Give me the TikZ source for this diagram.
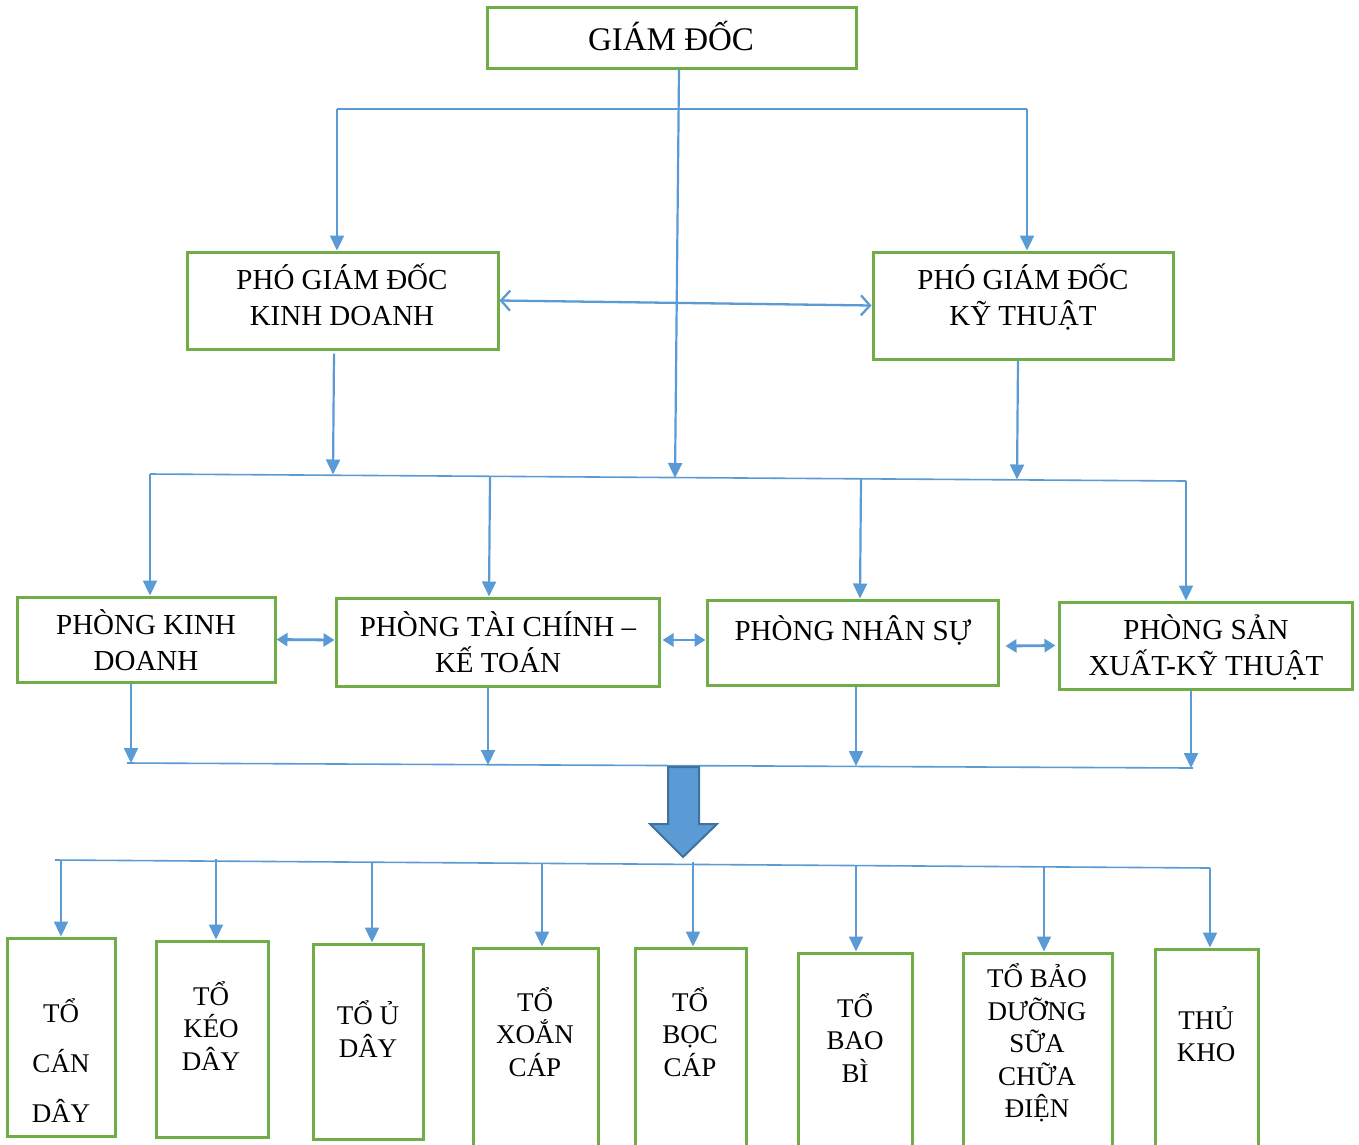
\documentclass[tikz,border=0pt]{standalone}
\usepackage{fontspec}
\setmainfont{Liberation Serif}
\usetikzlibrary{arrows.meta,calc}
\definecolor{gborder}{HTML}{70AD47}
\definecolor{bline}{HTML}{5B9BD5}
\definecolor{bdark}{HTML}{41719C}
\begin{document}
\begin{tikzpicture}[x=1pt,y=-1pt,
  box/.style={draw=gborder,line width=3pt,inner sep=0pt,fill=white},
  gtxt/.style={font=\fontsize{33}{40}\selectfont,align=center,inner sep=0pt},
  mtxt/.style={font=\fontsize{29}{36}\selectfont,align=center,inner sep=0pt},
  stxt/.style={font=\fontsize{27}{32.5}\selectfont,align=center,inner sep=0pt},
  bus/.style={draw=bline,line width=1.6pt},
  arr/.style={draw=bline,line width=2.2pt,-{Triangle[length=15pt,width=14pt]}},
  darr/.style={draw=bline,line width=2.8pt,{Triangle[length=11pt,width=13pt]}-{Triangle[length=11pt,width=13pt]}},
  oarr/.style={draw=bline,line width=2.3pt,{Straight Barb[length=9pt,width=20pt,line width=2.3pt]}-{Straight Barb[length=9pt,width=20pt,line width=2.3pt]}},
  bigarr/.style={fill=bline,draw=bdark,line width=2pt,line join=miter}
]
\clip (0,0) rectangle (1359,1144);
\path[fill=white] (0,0) rectangle (1359,1144);

% boxes
\node[box,minimum width=369pt,minimum height=61pt] (gd) at (671.5,37.5) {};
\node[box,minimum width=311pt,minimum height=97pt] (pkd) at (342.5,300.5) {};
\node[box,minimum width=300pt,minimum height=107pt] (pkt) at (1023,305.5) {};
\node[box,minimum width=258pt,minimum height=85pt] (pkdn) at (146,639.5) {};
\node[box,minimum width=323pt,minimum height=88pt] (ptc) at (497.5,642) {};
\node[box,minimum width=291pt,minimum height=85pt] (pns) at (852.5,642.5) {};
\node[box,minimum width=293pt,minimum height=87pt] (psx) at (1205.5,645.5) {};
\node[box,minimum width=108pt,minimum height=198pt] (b1) at (61,1037) {};
\node[box,minimum width=112pt,minimum height=196pt] (b2) at (212,1039) {};
\node[box,minimum width=110pt,minimum height=195pt] (b3) at (368,1041.5) {};
\node[box,minimum width=125pt,minimum height=212pt] (b4) at (535.5,1054) {};
\node[box,minimum width=111pt,minimum height=212pt] (b5) at (690.5,1054) {};
\node[box,minimum width=114pt,minimum height=207pt] (b6) at (855,1056.5) {};
\node[box,minimum width=149pt,minimum height=207pt] (b7) at (1037.5,1056.5) {};
\node[box,minimum width=103pt,minimum height=211pt] (b8) at (1206.5,1054.5) {};

% texts
\node[gtxt] (tgd) at (671,36) {GIÁM ĐỐC};
\node[mtxt] (tpkd) at (342,295) {PHÓ GIÁM ĐỐC\\KINH DOANH};
\node[mtxt] (tpkt) at (1023,297) {PHÓ GIÁM ĐỐC\\KỸ THUẬT};
\node[mtxt] (tpkdn) at (146,640) {PHÒNG KINH\\DOANH};
\node[mtxt] (tptc) at (498,642) {PHÒNG TÀI CHÍNH –\\KẾ TOÁN};
\node[mtxt] (tpns) at (853,630) {PHÒNG NHÂN SỰ};
\node[mtxt] (tpsx) at (1206,647) {PHÒNG SẢN\\XUẤT-KỸ THUẬT};
\node[stxt,font=\fontsize{27}{50}\selectfont] (tb1) at (61,1061) {TỔ\\CÁN\\DÂY};
\node[stxt] (tb2) at (211,1026) {TỔ\\KÉO\\DÂY};
\node[stxt] (tb3) at (368,1029) {TỔ Ủ\\DÂY};
\node[stxt] (tb4) at (535,1032) {TỔ\\XOẮN\\CÁP};
\node[stxt] (tb5) at (690,1032) {TỔ\\BỌC\\CÁP};
\node[stxt] (tb6) at (855,1038) {TỔ\\BAO\\BÌ};
\node[stxt] (tb7) at (1037,1043) {TỔ BẢO\\DƯỠNG\\SỮA\\CHỮA\\ĐIỆN};
\node[stxt] (tb8) at (1206,1034) {THỦ\\KHO};

% bus coordinates
\coordinate (t1) at (337,109);
\coordinate (t2) at (1027,109);
\coordinate (m1) at (150,474);
\coordinate (mk) at (333,474.5);
\coordinate (mg) at (675,478);
\coordinate (mt) at (1017,479.5);
\coordinate (m2) at (490,477);
\coordinate (m3) at (861,478.5);
\coordinate (m4) at (1186,481);
\coordinate (l0) at (127,763);
\coordinate (l1) at (131,763);
\coordinate (l2) at (488,765);
\coordinate (l3) at (856,766);
\coordinate (l4) at (1191,768);
\coordinate (l5) at (1193,768);
\coordinate (s0) at (55,860);
\coordinate (s1) at (61,860);
\coordinate (s2) at (216,859);
\coordinate (s3) at (372,862);
\coordinate (s4) at (542,863.4);
\coordinate (s5) at (693,862);
\coordinate (s6) at (856,865.5);
\coordinate (s7) at (1044,866.8);
\coordinate (s8) at (1210,868);

% top level
\draw[bus] (t1) -- (t2);
\draw[arr] (t1) -- ([xshift=-5.5pt]pkd.north);
\draw[arr] (t2) -- ([xshift=4pt]pkt.north);
\draw[arr] ([xshift=7.5pt]gd.south) -- (mg);
\draw[oarr] (pkd.east) -- (pkt.west);
\draw[arr] ([xshift=-8.5pt,yshift=-3pt]pkd.south) -- (mk);
\draw[arr] ([xshift=-5pt]pkt.south) -- (mt);

% second bus
\draw[bus] (m1) -- (m4);
\draw[arr] (m1) -- ([xshift=4pt]pkdn.north);
\draw[arr] (m2) -- ([xshift=-8.5pt]ptc.north);
\draw[arr] (m3) -- ([xshift=7.5pt]pns.north);
\draw[arr] (m4) -- ([xshift=-19.5pt]psx.north);

% horizontal links
\draw[darr] (pkdn.east) -- ([yshift=2pt]ptc.west);
\draw[darr] ([xshift=2pt,yshift=2pt]ptc.east) -- ([yshift=2.5pt]pns.west);
\draw[darr] ([xshift=6pt,yshift=-3.5pt]pns.east) -- ([xshift=-2pt]psx.west);

% third bus
\draw[arr] ([xshift=-15pt]pkdn.south) -- (l1);
\draw[arr] ([xshift=-9.5pt]ptc.south) -- (l2);
\draw[arr] ([xshift=3.5pt]pns.south) -- (l3);
\draw[arr] ([xshift=-14.5pt]psx.south) -- (l4);
\draw[bus] (l0) -- (l5);

% big arrow
\path[bigarr] (668,767) -- (699,767) -- (699,824) -- (717,824) -- (683,857) -- (650,824) -- (668,824) -- cycle;

% fourth bus
\draw[bus] (s0) -- (s8);
\draw[arr] (s1) -- (b1.north);
\draw[arr] (s2) -- ([xshift=4pt]b2.north);
\draw[arr] (s3) -- ([xshift=4pt]b3.north);
\draw[arr] (s4) -- ([xshift=6.5pt]b4.north);
\draw[arr] (s5) -- ([xshift=2.5pt]b5.north);
\draw[arr] (s6) -- ([xshift=1pt]b6.north);
\draw[arr] (s7) -- ([xshift=6.5pt]b7.north);
\draw[arr] (s8) -- ([xshift=3.5pt]b8.north);
\end{tikzpicture}
\end{document}
